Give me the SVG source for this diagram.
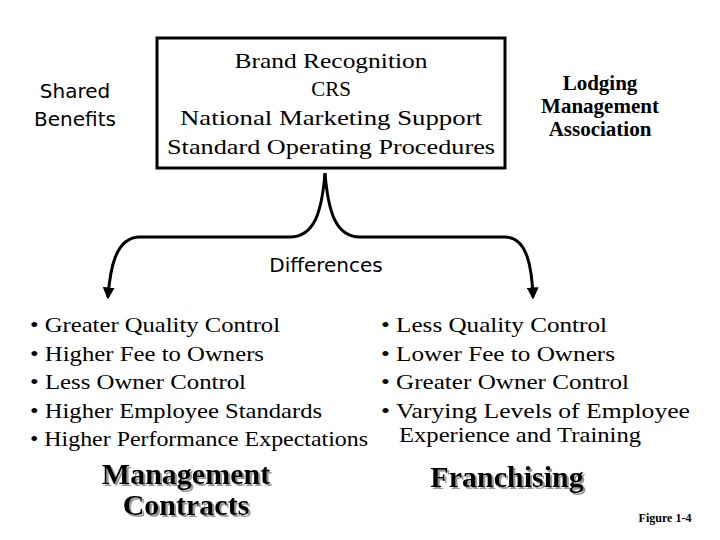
<svg xmlns="http://www.w3.org/2000/svg" width="720" height="540" viewBox="0 0 720 540">
<defs>
<style>
.s{font-family:"Liberation Serif",serif;font-size:21px;fill:#000}
.c{font-family:"DejaVu Sans",sans-serif;font-size:20px;fill:#000}
.t{font-family:"Liberation Serif",serif;font-size:30px;font-weight:bold;filter:url(#sh)}
.ln{fill:none;stroke:#000;stroke-width:3}
</style>
<filter id="sh" x="-10%" y="-30%" width="120%" height="160%"><feDropShadow dx="2" dy="2" stdDeviation="0.5" flood-color="#999"/></filter>
<marker id="ah" viewBox="0 0 10 10" refX="8" refY="5" markerWidth="4" markerHeight="4" orient="auto"><path d="M0,0 L10,5 L0,10 z" fill="#000"/></marker>
</defs>
<rect width="720" height="540" fill="#fff"/>
<g id="shared"><text class="c" text-anchor="middle" x="75" y="98">Shared</text><text class="c" text-anchor="middle" x="75" y="126">Benefits</text></g>
<g id="benefits">
<rect x="157" y="38" width="348" height="130" fill="#fff" stroke="#000" stroke-width="3"/>
<g class="s" text-anchor="middle"><text x="331" y="68" textLength="193" lengthAdjust="spacingAndGlyphs">Brand Recognition</text><text x="331" y="96">CRS</text><text x="331" y="125" textLength="302" lengthAdjust="spacingAndGlyphs">National Marketing Support</text><text x="331" y="154" textLength="328" lengthAdjust="spacingAndGlyphs">Standard Operating Procedures</text></g>
</g>
<g id="lma" class="s" text-anchor="middle" font-weight="bold"><text x="600" y="90">Lodging</text><text x="600" y="113">Management</text><text x="600" y="136">Association</text></g>
<g id="connectors">
<path class="ln" d="M325,173 C322,210 315,237 290,237 L140,237 C115,237 110,270 108,297" marker-end="url(#ah)"/>
<path class="ln" d="M325,173 C328,210 335,237 360,237 L505,237 C528,237 532,270 533,297" marker-end="url(#ah)"/>
</g>
<g id="differences"><text class="c" text-anchor="middle" x="326" y="272">Differences</text></g>
<g id="mgmt-list" class="s">
<text x="30" y="332" textLength="250" lengthAdjust="spacingAndGlyphs">• Greater Quality Control</text>
<text x="30" y="361" textLength="234" lengthAdjust="spacingAndGlyphs">• Higher Fee to Owners</text>
<text x="30" y="389" textLength="216" lengthAdjust="spacingAndGlyphs">• Less Owner Control</text>
<text x="30" y="418" textLength="292" lengthAdjust="spacingAndGlyphs">• Higher Employee Standards</text>
<text x="30" y="446" textLength="338" lengthAdjust="spacingAndGlyphs">• Higher Performance Expectations</text>
</g>
<g id="fr-list" class="s">
<text x="381" y="332" textLength="226" lengthAdjust="spacingAndGlyphs">• Less Quality Control</text>
<text x="381" y="361" textLength="234" lengthAdjust="spacingAndGlyphs">• Lower Fee to Owners</text>
<text x="381" y="389" textLength="248" lengthAdjust="spacingAndGlyphs">• Greater Owner Control</text>
<text x="381" y="418" textLength="309" lengthAdjust="spacingAndGlyphs">• Varying Levels of  Employee</text>
<text x="399" y="442" textLength="242" lengthAdjust="spacingAndGlyphs">Experience and Training</text>
</g>
<g id="mgmt-title" class="t" text-anchor="middle">
<text x="186" y="484">Management</text>
<text x="186" y="515">Contracts</text>
</g>
<g id="fr-title" class="t" text-anchor="middle">
<text x="507" y="487">Franchising</text>
</g>
<text x="665" y="522" text-anchor="middle" style="font-family:'Liberation Serif',serif;font-size:12px;font-weight:bold">Figure 1-4</text>
</svg>
